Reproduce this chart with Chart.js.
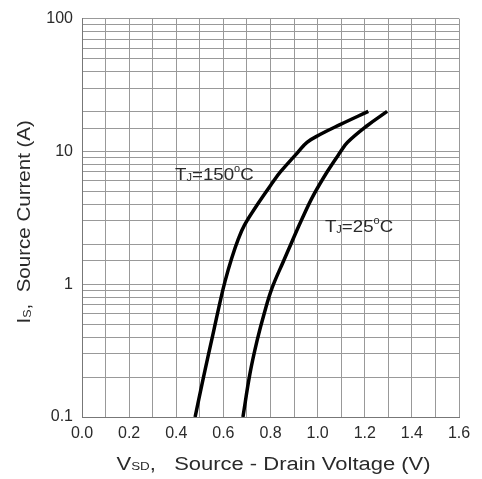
<!DOCTYPE html>
<html>
<head>
<meta charset="utf-8">
<script src="https://cdn.jsdelivr.net/npm/chart.js@4"></script>
<style>
body { margin: 0; background: #fff; }
#wrap { width: 482px; height: 479px; position: relative; }
</style>
</head>
<body>
<div id="wrap"><canvas id="diodeChart"></canvas></div>
<script>
// body diode forward characteristic
const vsd150 = [0.48, 0.51, 0.534, 0.559, 0.587, 0.607, 0.635, 0.664, 0.69, 0.743, 0.811, 0.842, 0.915, 0.955, 1.01, 1.095, 1.215];
const is150  = [0.1, 0.179, 0.281, 0.446, 0.75, 1.05, 1.56, 2.2, 2.8, 3.95, 5.9, 7.0, 9.8, 11.7, 13.4, 15.9, 20];
const vsd25  = [0.683, 0.713, 0.743, 0.773, 0.806, 0.855, 0.891, 0.934, 0.983, 1.04, 1.095, 1.127, 1.21, 1.295];
const is25   = [0.1, 0.213, 0.376, 0.6, 0.93, 1.49, 2.09, 3.11, 4.7, 7.0, 9.8, 11.7, 15.6, 20];

const xTickLabels = ['0.0', '0.2', '0.4', '0.6', '0.8', '1.0', '1.2', '1.4', '1.6'];
const yTickLabels = ['0.1', '1', '10', '100'];

// curve labels: temperature and where the label sits (in data units)
const curveTemps = ['150', '25'];
const labelVsd = [0.395, 1.031];
const labelIs = [6.6, 2.7];

const FONT = '"Liberation Sans", Arial, sans-serif';
const TXT = '#2a2a2a';

function toPoints(xs, ys) {
    return xs.map((x, i) => ({ x: x, y: ys[i] }));
}

// text runs with sub/superscripts: {t, size, dy}
function richWidth(ctx, parts) {
    let w = 0;
    parts.forEach(p => {
        ctx.font = p.size + 'px ' + FONT;
        w += ctx.measureText(p.t).width;
    });
    return w;
}
function drawRich(ctx, parts, x, y) {
    parts.forEach(p => {
        ctx.font = p.size + 'px ' + FONT;
        ctx.fillText(p.t, x, y + (p.dy || 0));
        x += ctx.measureText(p.t).width;
    });
}
// centred and stretched horizontally like the scanned datasheet text
function drawStretched(ctx, parts, cx, cy, stretch, angle) {
    const w = richWidth(ctx, parts);
    ctx.save();
    ctx.translate(cx, cy);
    ctx.rotate(angle);
    ctx.scale(stretch, 1);
    drawRich(ctx, parts, -w / 2, 0);
    ctx.restore();
}

const textPlugin = {
    id: 'textPlugin',
    afterDraw(chart) {
        const ctx = chart.ctx;
        const xs = chart.scales.x, ys = chart.scales.y;
        const area = chart.chartArea;
        ctx.save();
        ctx.fillStyle = TXT;
        ctx.textBaseline = 'middle';
        ctx.textAlign = 'left';

        curveTemps.forEach((t, i) => {
            const parts = [
                { t: 'T', size: 17 }, { t: 'J', size: 10, dy: 3 },
                { t: '=' + t, size: 17 }, { t: 'o', size: 10, dy: -6 }, { t: 'C', size: 17 }
            ];
            const x0 = xs.getPixelForValue(labelVsd[i]);
            const y0 = ys.getPixelForValue(labelIs[i]);
            ctx.save();
            ctx.translate(x0, y0);
            ctx.scale(1.1, 1);
            drawRich(ctx, parts, 0, 0);
            ctx.restore();
        });

        const xParts = [
            { t: 'V', size: 18 }, { t: 'SD', size: 11, dy: 2 }, { t: ',   Source - Drain Voltage (V)', size: 18 }
        ];
        drawStretched(ctx, xParts, (area.left + area.right) / 2 + 3, 465, 1.22, 0);

        const yParts = [
            { t: 'I', size: 18 }, { t: 'S', size: 11, dy: 3 }, { t: ',  Source Current (A)', size: 18 }
        ];
        drawStretched(ctx, yParts, 25, (area.top + area.bottom) / 2 + 4, 1.14, -Math.PI / 2);
        ctx.restore();
    }
};

const ctx = document.getElementById('diodeChart').getContext('2d');
const diodeChart = new Chart(ctx, {
    type: 'scatter',
    data: {
        datasets: [{
            data: toPoints(vsd150, is150),
            showLine: true,
            borderColor: '#000',
            borderWidth: 3.5,
            pointRadius: 0,
            tension: 0.4
        }, {
            data: toPoints(vsd25, is25),
            showLine: true,
            borderColor: '#000',
            borderWidth: 3.5,
            pointRadius: 0,
            tension: 0.4
        }]
    },
    options: {
        responsive: true,
        maintainAspectRatio: false,
        animation: false,
        layout: { padding: { top: 15, right: 23, left: 0, bottom: 0 } },
        plugins: { legend: { display: false }, tooltip: { enabled: false } },
        scales: {
            x: {
                type: 'linear',
                min: 0,
                max: 1.6,
                afterFit: s => { s.height = 62; },
                grid: { color: '#999', lineWidth: 1, drawTicks: false },
                border: { color: '#777', width: 1 },
                ticks: {
                    stepSize: 0.1,
                    padding: 7,
                    color: TXT,
                    font: { family: FONT, size: 16 },
                    autoSkip: false,
                    maxRotation: 0,
                    callback: v => {
                        const k = Math.round(v * 10);
                        return k % 2 === 0 ? xTickLabels[k / 2] : '';
                    }
                }
            },
            y: {
                type: 'logarithmic',
                min: 0.1,
                max: 100,
                afterFit: s => { s.width = 82; },
                grid: { color: '#999', lineWidth: 1, drawTicks: false },
                border: { color: '#777', width: 1 },
                ticks: {
                    padding: 9,
                    color: TXT,
                    font: { family: FONT, size: 16 },
                    autoSkip: false,
                    callback: v => {
                        const e = Math.log10(v);
                        const k = Math.round(e);
                        return Math.abs(e - k) < 1e-6 ? yTickLabels[k + 1] : '';
                    }
                }
            }
        }
    },
    plugins: [textPlugin]
});
</script>
</body>
</html>
